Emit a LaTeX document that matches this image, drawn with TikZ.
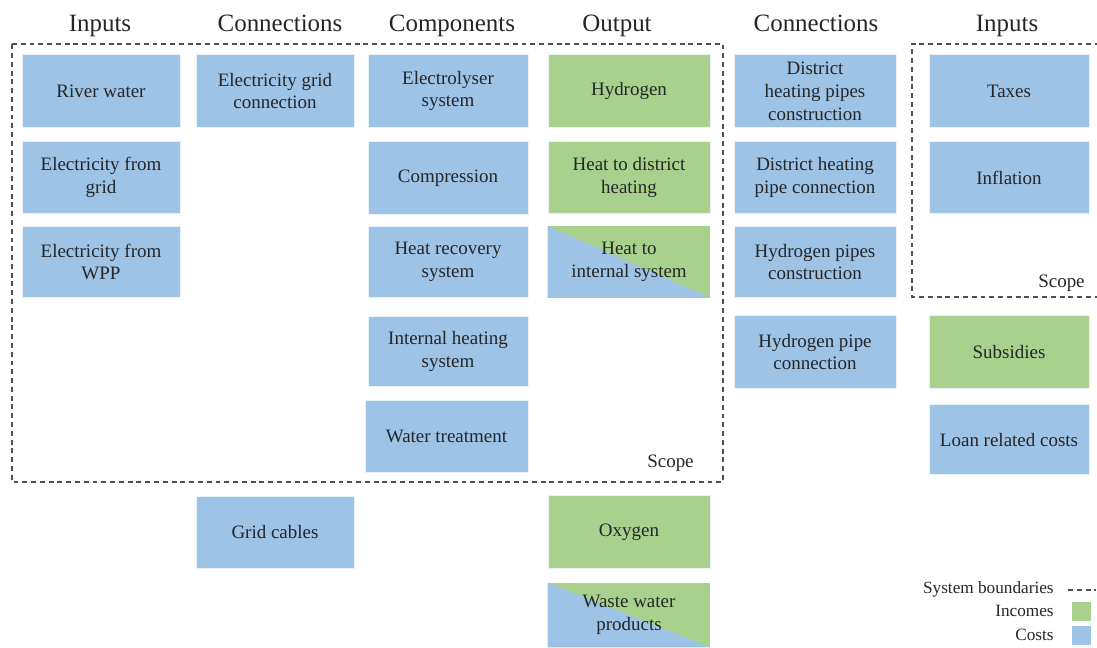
\documentclass[tikz,border=0pt]{standalone}
\usepackage{fontspec}
\setmainfont{Liberation Serif}
\usetikzlibrary{backgrounds}
\definecolor{costblue}{HTML}{9DC3E6}
\definecolor{incgreen}{HTML}{A9D18E}
\definecolor{dashgray}{HTML}{505050}
\tikzset{
  box/.style={rectangle, draw=white!80!costblue, line width=0.5pt, inner sep=0pt, align=center,
    font=\fontsize{10.8}{13}\selectfont, text=black!85},
  cost/.style={box, fill=costblue},
  inc/.style={box, fill=incgreen},
  splitbox/.style={box, draw=none},
  hdr/.style={font=\fontsize{14.2}{16}\selectfont, text=black!85, anchor=base, inner sep=0pt},
  lbl/.style={font=\fontsize{10.8}{13}\selectfont, text=black!85, inner sep=0pt},
  leg/.style={font=\fontsize{9.8}{12}\selectfont, text=black!85, inner sep=0pt, anchor=base east},
  scopeline/.style={draw=dashgray, line width=0.8pt, dash pattern=on 2.8pt off 2.2pt},
  wA/.style={minimum width=3.16cm}, wB/.style={minimum width=3.2cm},
  wC/.style={minimum width=3.24cm}, wD/.style={minimum width=3.26cm},
  h73/.style={minimum height=1.46cm}, h72/.style={minimum height=1.44cm},
  h71/.style={minimum height=1.42cm}, h70/.style={minimum height=1.4cm},
  h64/.style={minimum height=1.28cm}
}
\begin{document}
\begin{tikzpicture}[x=0.02cm, y=-0.02cm]
\useasboundingbox (0,0) rectangle (1097,647);
% headers
\node[hdr] (h1) at (100,31) {Inputs};
\node[hdr] (h2) at (280,31) {Connections};
\node[hdr] (h3) at (452,31) {Components};
\node[hdr] (h4) at (617,31) {Output};
\node[hdr] (h5) at (816,31) {Connections};
\node[hdr] (h6) at (1007,31) {Inputs};
% scopes
\coordinate (s1a) at (12,44); \coordinate (s1b) at (723,44);
\coordinate (s1c) at (723,482); \coordinate (s1d) at (12,482);
\draw[scopeline] (s1a) -- (s1b) -- (s1c) -- (s1d) -- cycle;
\node[lbl, anchor=base east] (sc1) at (694,467) {Scope};
\coordinate (s2a) at (1100,44); \coordinate (s2b) at (912,44);
\coordinate (s2c) at (912,297); \coordinate (s2d) at (1100,297);
\draw[scopeline] (s2a) -- (s2b) -- (s2c) -- (s2d);
\node[lbl, anchor=base east] (sc2) at (1085,287) {Scope};
% column 1
\node[cost, wA, h73] (rw) at (101,91) {River water};
\node[cost, wA, h72] (eg) at (101,177.5) {Electricity from\\grid};
\node[cost, wA, h71] (ew) at (101,262) {Electricity from\\WPP};
% column 2
\node[cost, wA, h73] (egc) at (275,91) {Electricity grid\\connection};
\node[cost, wA, h72] (gc) at (275,532) {Grid cables};
% column 3
\node[cost, wB, h73] (el) at (448,91) {Electrolyser\\system};
\node[cost, wB, h73] (co) at (448,178) {Compression};
\node[cost, wB, h71] (hr) at (448,262) {Heat recovery\\system};
\node[cost, wB, h70] (ih) at (448,351.5) {Internal heating\\system};
\node[cost, wD, h72] (wt) at (446.5,436) {Water treatment};
% column 4
\node[inc, wC, h73] (hy) at (629,91) {Hydrogen};
\node[inc, wC, h72] (hd) at (629,177.5) {Heat to district\\heating};
\node[splitbox, wC, h71] (hi) at (629,262) {Heat to\\internal system};
\node[inc, wC, h73] (ox) at (629,532) {Oxygen};
\node[splitbox, wC, h64] (ww) at (629,615) {Waste water\\products};
\begin{scope}[on background layer]
  \fill[incgreen] (hi.north west) rectangle (hi.south east);
  \fill[costblue] (hi.north west) -- (hi.south east) -- (hi.south west) -- cycle;
  \fill[incgreen] (ww.north west) rectangle (ww.south east);
  \fill[costblue] (ww.north west) -- (ww.south east) -- (ww.south west) -- cycle;
\end{scope}
% column 5
\node[cost, wC, h73] (dpc) at (815,91) {District\\heating pipes\\construction};
\node[cost, wC, h72] (dpn) at (815,177.5) {District heating\\pipe connection};
\node[cost, wC, h71] (hpc) at (815,262) {Hydrogen pipes\\construction};
\node[cost, wC, h73] (hpn) at (815,352) {Hydrogen pipe\\connection};
% column 6
\node[cost, wB, h73] (tx) at (1009,91) {Taxes};
\node[cost, wB, h72] (inf) at (1009,177.5) {Inflation};
\node[inc, wB, h73] (sub) at (1009,352) {Subsidies};
\node[cost, wB, h70] (loan) at (1009,439.5) {Loan related costs};
% legend
\node[leg] (lsb) at (1054,593) {System boundaries};
\coordinate (ld1) at (1068,590); \coordinate (ld2) at (1096,590);
\draw[scopeline] (ld1) -- (ld2);
\node[leg] (linc) at (1054,616) {Incomes};
\node[fill=incgreen, minimum width=0.38cm, minimum height=0.38cm, inner sep=0pt] (linsq) at (1081.5,611) {};
\node[leg] (lcost) at (1054,640) {Costs};
\node[fill=costblue, minimum width=0.38cm, minimum height=0.38cm, inner sep=0pt] (lcsq) at (1081.5,635.5) {};
\end{tikzpicture}
\end{document}
